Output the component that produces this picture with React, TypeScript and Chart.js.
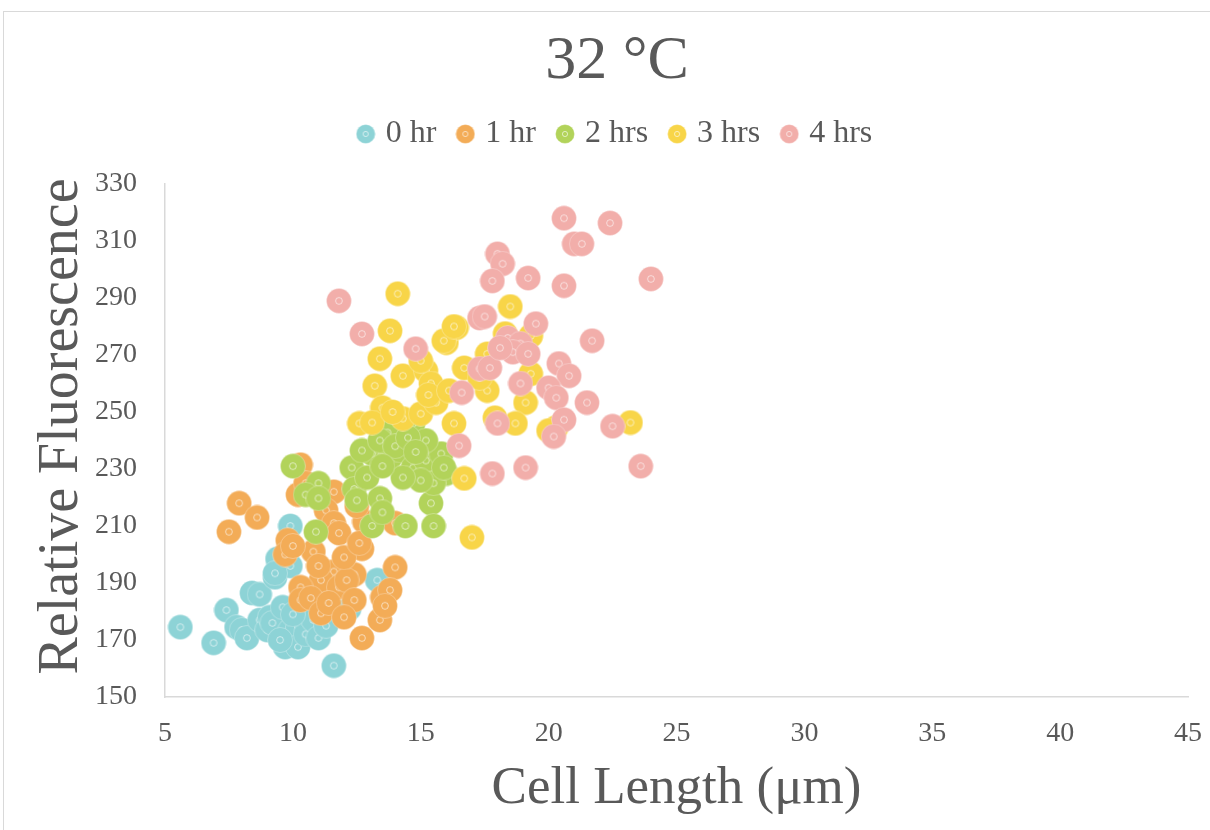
import React, { useEffect, useRef } from 'react';
import { Chart, registerables } from 'chart.js';

Chart.register(...registerables);

const chartTitle = '32 °C';
const xTitle = 'Cell Length (μm)';
const yTitle = 'Relative Fluorescence';
const seriesNames = ['0 hr', '1 hr', '2 hrs', '3 hrs', '4 hrs'];
const seriesColors = ['#8DD3D6', '#F3AC57', '#B2D35A', '#F8D548', '#F2AEAA'];

const hr0: number[][] = [
  [5.6, 174.5], [6.9, 169], [7.4, 180.5], [8.4, 186.5], [8.7, 186], [9.3, 192], [9.4, 198.5], [9.9, 210],
  [7.8, 174.5], [8.0, 173.5], [8.2, 170.7], [8.7, 177], [9.0, 173.5], [9.1, 178], [9.2, 176], [9.6, 181.5],
  [9.7, 167.5], [9.9, 173.5], [10.2, 174.5], [10.2, 167.5], [10.5, 172], [10.8, 177], [11.0, 170.7],
  [11.3, 175], [11.6, 161], [12.2, 181], [13.3, 191], [9.5, 170], [10.0, 179], [9.9, 196], [9.3, 193.4],
];
const hr1: number[][] = [
  [7.9, 218], [8.6, 213], [7.5, 208], [10.3, 231.5], [10.2, 221], [11.6, 222], [11.3, 215.5], [11.6, 211],
  [11.8, 207.5], [9.8, 205], [9.7, 200], [10.8, 201], [12.7, 202], [14.0, 195.5], [12.4, 193], [11.6, 194],
  [11.1, 191], [10.3, 188.5], [10.3, 184], [10.7, 184.7], [11.1, 179.4], [11.8, 188.5], [12.1, 191],
  [12.4, 184], [13.5, 185], [13.8, 187.5], [13.4, 177], [12.7, 170.7], [12.8, 211.5], [10.0, 203],
  [11.0, 196], [12.0, 199], [11.4, 183], [12.0, 178], [13.6, 182], [14.0, 211], [12.5, 217], [10.5, 225],
  [12.6, 204],
];
const hr2: number[][] = [
  [10.0, 231], [11.0, 225], [10.5, 221], [11.0, 219.7], [10.9, 208], [12.3, 230.5], [12.4, 223], [12.5, 219],
  [13.4, 219.7], [13.1, 210], [13.5, 214.8], [14.4, 210], [15.4, 218], [15.5, 210], [13.7, 242.8],
  [14.7, 246], [13.1, 235.4], [13.8, 234], [14.2, 236.5], [14.7, 230.5], [15.2, 233], [15.8, 235.4],
  [16.0, 228.4], [15.5, 225], [15.0, 226], [14.3, 227], [12.9, 227], [12.7, 236.5], [13.4, 240],
  [15.2, 240], [15.9, 230.5], [14.0, 238], [14.5, 241], [13.5, 231], [14.8, 236],
];
const hr3: number[][] = [
  [14.1, 291.5], [13.8, 278.5], [13.4, 268.7], [14.3, 262.7], [13.2, 259.2], [13.5, 251.5], [12.6, 246],
  [13.1, 246.3], [14.3, 247.7], [15.0, 249.4], [15.2, 264.5], [15.4, 260], [15.6, 253.3], [16.3, 246],
  [16.0, 274.3], [16.4, 279.6], [16.7, 265.5], [17.6, 270.4], [17.6, 257.5], [18.5, 287], [18.3, 277.5],
  [19.3, 276.7], [19.3, 263.4], [19.1, 253.3], [18.7, 246], [16.7, 226.7], [20.3, 244.6], [23.2, 246.3],
  [20.0, 243.5], [17.0, 206], [15.9, 275], [16.3, 280], [13.9, 250], [15.3, 256], [17.3, 262],
  [15.0, 268], [17.9, 248], [16.1, 257.5],
];
const hr4: number[][] = [
  [20.6, 318], [22.4, 316.3], [21.0, 309], [21.3, 309], [18.0, 305.5], [18.2, 302], [17.8, 296], [19.2, 297],
  [20.6, 294.3], [24.0, 296.7], [17.3, 283], [17.5, 283.5], [19.5, 281], [18.4, 276], [18.9, 274],
  [18.6, 271], [19.2, 270.4], [21.7, 275], [17.3, 265.2], [17.7, 265.5], [20.4, 267], [20.8, 262.7],
  [18.9, 260], [20.0, 258.5], [20.3, 255], [16.6, 256.8], [21.5, 253.3], [20.6, 247.3], [18.0, 246],
  [20.2, 241.4], [22.5, 245], [16.5, 238.2], [17.8, 228.4], [19.1, 230.5], [23.6, 231], [11.8, 289],
  [12.7, 277.4], [14.8, 272.2], [18.1, 272.5],
];
const seriesData = [hr0, hr1, hr2, hr3, hr4];

const xMin = 5, xMax = 45, xStep = 5;
const yMin = 150, yMax = 330, yStep = 20;

const FONT = "'Liberation Serif', 'Times New Roman', serif";
const TEXT = '#595959';

function makeMarker(color: string, size: number): HTMLCanvasElement {
  const c = document.createElement('canvas');
  c.width = size;
  c.height = size;
  const ctx = c.getContext('2d')!;
  const r = size / 2;
  ctx.beginPath();
  ctx.arc(r, r, r - 0.5, 0, Math.PI * 2);
  ctx.fillStyle = color;
  ctx.fill();
  ctx.lineWidth = 1;
  ctx.strokeStyle = 'rgba(255,255,255,0.3)';
  ctx.stroke();
  ctx.beginPath();
  ctx.arc(r, r, size * 0.13, 0, Math.PI * 2);
  ctx.strokeStyle = 'rgba(255,255,255,0.6)';
  ctx.lineWidth = 1;
  ctx.stroke();
  return c;
}

export default function App() {
  const ref = useRef<HTMLCanvasElement | null>(null);

  useEffect(() => {
    if (!ref.current) return;
    const pointImgs = seriesColors.map((c) => makeMarker(c, 26));
    const legendImgs = seriesColors.map((c) => makeMarker(c, 20));

    const chart = new Chart(ref.current, {
      type: 'scatter',
      data: {
        datasets: seriesNames.map((name, i) => ({
          label: name,
          data: seriesData[i].map(([x, y]) => ({ x, y })),
          backgroundColor: seriesColors[i],
          borderColor: seriesColors[i],
          pointStyle: pointImgs[i] as any,
          pointRadius: 13,
          order: seriesNames.length - 1 - i,
        })),
      },
      options: {
        responsive: false,
        animation: false,
        layout: { padding: { left: 46, right: 22, top: 0, bottom: 0 } },
        plugins: {
          tooltip: { enabled: false },
          title: {
            display: true,
            text: chartTitle,
            color: TEXT,
            font: { family: FONT, size: 62, weight: 'normal' as any, lineHeight: 1 },
            padding: { top: 31, bottom: 0 },
          },
          subtitle: {
            display: true,
            text: '',
            weight: 500,
            font: { size: 10 },
            padding: { top: 12, bottom: 0 },
          } as any,
          legend: {
            display: true,
            position: 'top',
            labels: {
              usePointStyle: true,
              boxWidth: 8,
              boxHeight: 20,
              padding: 25,
              color: TEXT,
              font: { family: FONT, size: 32 },
              sort: (a: any, b: any) => a.datasetIndex - b.datasetIndex,
              generateLabels: (ch: any) => {
                const items = Chart.defaults.plugins.legend.labels.generateLabels(ch);
                return items.map((it: any) => ({ ...it, pointStyle: legendImgs[it.datasetIndex] }));
              },
            },
          },
        },
        scales: {
          x: {
            type: 'linear',
            min: xMin,
            max: xMax,
            afterFit: (s: any) => { s.height = 133; s.paddingLeft = 0; s.paddingRight = 0; },
            ticks: { stepSize: xStep, color: TEXT, font: { family: FONT, size: 28 }, padding: 20 },
            grid: { display: false, drawTicks: false },
            border: { display: true, color: '#d9d9d9', width: 1.5 },
            title: {
              display: true,
              text: xTitle,
              color: TEXT,
              font: { family: FONT, size: 53, lineHeight: 1 },
              padding: { top: 0, bottom: 14 },
            },
          },
          y: {
            type: 'linear',
            min: yMin,
            max: yMax,
            afterFit: (s: any) => { s.width = 119; },
            ticks: { stepSize: yStep, color: TEXT, font: { family: FONT, size: 28 }, padding: 28 },
            grid: { display: false, drawTicks: false },
            border: { display: true, color: '#d9d9d9', width: 1.5 },
            title: {
              display: true,
              text: '  ' + yTitle,
              color: TEXT,
              font: { family: FONT, size: 56, lineHeight: 1 },
              padding: { top: -12, bottom: 0 },
            },
          },
        },
      },
    });
    return () => chart.destroy();
  }, []);

  return (
    <div style={{ position: 'absolute', left: 0, top: 0, width: 1210, height: 830, background: '#fff', overflow: 'hidden' }}>
      <div style={{ position: 'absolute', left: 3, top: 11, width: 1207, height: 819, borderTop: '1px solid #d9d9d9', borderLeft: '1px solid #d9d9d9' }} />
      <canvas ref={ref} width={1210} height={830} style={{ position: 'absolute', left: 0, top: 0, display: 'block' }} />
    </div>
  );
}
